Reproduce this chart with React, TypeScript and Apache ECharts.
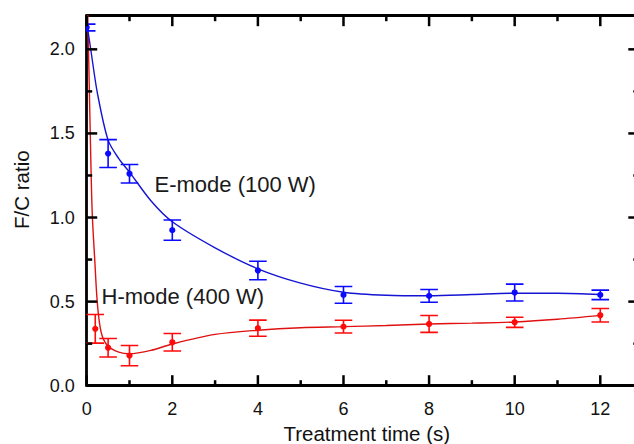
import React, { useEffect, useRef } from "react";
import * as echarts from "echarts";

// Measured points (treatment time in s, F/C ratio, error)
const blueTimes = [0, 0.5, 1, 2, 4, 6, 8, 10, 12];
const blueValues = [2.13, 1.38, 1.26, 0.925, 0.685, 0.54, 0.534, 0.554, 0.54];
const blueErrors = [0.02, 0.083, 0.055, 0.06, 0.055, 0.05, 0.038, 0.05, 0.028];

const redTimes = [0.2, 0.5, 1, 2, 4, 6, 8, 10, 12];
const redValues = [0.338, 0.226, 0.179, 0.258, 0.342, 0.351, 0.367, 0.377, 0.419];
const redErrors = [0.085, 0.055, 0.06, 0.052, 0.048, 0.038, 0.05, 0.03, 0.04];

// Fitted curves
const blueFitTimes = [0, 0.1, 0.25, 0.5, 0.75, 1, 1.5, 2, 3, 4, 5, 6, 7, 8, 9, 10, 11, 12];
const blueFitValues = [2.16, 1.99, 1.74, 1.46, 1.35, 1.27, 1.1, 0.975, 0.82, 0.695, 0.61, 0.556, 0.538, 0.535, 0.542, 0.55, 0.55, 0.542];

const redFitTimes = [0, 0.05, 0.1, 0.13, 0.19, 0.24, 0.3, 0.37, 0.5, 0.75, 1, 1.5, 2, 3, 4, 5, 6, 7, 8, 9, 10, 11, 12];
const redFitValues = [2.5, 1.9, 1.3, 1.02, 0.74, 0.52, 0.37, 0.29, 0.235, 0.2, 0.19, 0.21, 0.248, 0.305, 0.33, 0.345, 0.351, 0.358, 0.367, 0.372, 0.379, 0.395, 0.418];

// Tick positions and labels
const xMajorTicks = [0, 2, 4, 6, 8, 10, 12];
const xMinorTicks = [1, 3, 5, 7, 9, 11];
const yMajorTicks = [0, 0.5, 1.0, 1.5, 2.0];
const yMinorTicks = [0.25, 0.75, 1.25, 1.75];
const xTickLabels = ["0", "2", "4", "6", "8", "10", "12"];
const yTickLabels = ["0.0", "0.5", "1.0", "1.5", "2.0"];
const seriesNames = ["E-mode (100 W)", "H-mode (400 W)"];

const BLUE = "#0a0aff";
const BLUE_LINE = "#1414d2";
const RED = "#ff0a0a";
const RED_LINE = "#e01010";
const FONT = "Liberation Sans, Arial, sans-serif";
const MAJOR_LEN = 10.5;
const MINOR_LEN = 5.5;

function errorBarSeries(times: number[], vals: number[], errs: number[], color: string) {
  return {
    type: "custom",
    xAxisIndex: 0,
    yAxisIndex: 0,
    clip: true,
    z: 5,
    data: times.map((t, i) => [t, vals[i], errs[i]]),
    encode: { x: 0, y: 1 },
    renderItem: (params: any, api: any) => {
      const x = api.value(0);
      const y = api.value(1);
      const e = api.value(2);
      const top = api.coord([x, y + e]);
      const bot = api.coord([x, y - e]);
      const c = api.coord([x, y]);
      const hw = 8.8;
      const st = { stroke: color, lineWidth: 1.6, fill: null };
      return {
        type: "group",
        children: [
          { type: "line", shape: { x1: top[0], y1: top[1], x2: bot[0], y2: bot[1] }, style: st },
          { type: "line", shape: { x1: top[0] - hw, y1: top[1], x2: top[0] + hw, y2: top[1] }, style: st },
          { type: "line", shape: { x1: bot[0] - hw, y1: bot[1], x2: bot[0] + hw, y2: bot[1] }, style: st },
          { type: "circle", shape: { cx: c[0], cy: c[1], r: 3.1 }, style: { fill: color, stroke: null } },
        ],
      };
    },
  };
}

const tickStyle = { stroke: "#000", lineWidth: 2.5, fill: null };

// Inward ticks on all four sides of the frame, positioned through the axes' scales
function xTickSeries() {
  const data = [
    ...xMajorTicks.map((v) => [v, 0, 1]),
    ...xMinorTicks.map((v) => [v, 0, 0]),
  ];
  return {
    type: "custom",
    xAxisIndex: 0,
    yAxisIndex: 0,
    clip: false,
    silent: true,
    z: 6,
    data,
    encode: { x: 0, y: 1 },
    renderItem: (params: any, api: any) => {
      const cs = params.coordSys;
      const px = api.coord([api.value(0), 0])[0];
      const len = api.value(2) ? MAJOR_LEN : MINOR_LEN;
      const bottom = cs.y + cs.height;
      return {
        type: "group",
        children: [
          { type: "line", shape: { x1: px, y1: bottom, x2: px, y2: bottom - len }, style: tickStyle },
          { type: "line", shape: { x1: px, y1: cs.y, x2: px, y2: cs.y + len }, style: tickStyle },
        ],
      };
    },
  };
}

function yTickSeries() {
  const data = [
    ...yMajorTicks.map((v) => [0, v, 1]),
    ...yMinorTicks.map((v) => [0, v, 0]),
  ];
  return {
    type: "custom",
    xAxisIndex: 0,
    yAxisIndex: 0,
    clip: false,
    silent: true,
    z: 6,
    data,
    encode: { x: 0, y: 1 },
    renderItem: (params: any, api: any) => {
      const cs = params.coordSys;
      const py = api.coord([0, api.value(1)])[1];
      const len = api.value(2) ? MAJOR_LEN : MINOR_LEN;
      const right = cs.x + cs.width;
      return {
        type: "group",
        children: [
          { type: "line", shape: { x1: cs.x, y1: py, x2: cs.x + len, y2: py }, style: tickStyle },
          { type: "line", shape: { x1: right, y1: py, x2: right - len, y2: py }, style: tickStyle },
        ],
      };
    },
  };
}

export default function App() {
  const ref = useRef<HTMLDivElement>(null);

  useEffect(() => {
    document.documentElement.style.overflow = "hidden";
    document.body.style.overflow = "hidden";
    const chart = echarts.init(ref.current!, null, { renderer: "svg" });

    const xLabelFormatter = (v: number) => {
      const s = String(Math.round(v * 100) / 100);
      return xTickLabels.indexOf(s) >= 0 ? s : "";
    };
    const yLabelFormatter = (v: number) => {
      const s = v.toFixed(1);
      return yTickLabels.indexOf(s) >= 0 && Math.abs(v * 2 - Math.round(v * 2)) < 1e-6 ? s : "";
    };
    const line = () => ({ show: true, onZero: false, lineStyle: { color: "#000", width: 2.8 } });

    chart.setOption({
      animation: false,
      backgroundColor: "#ffffff",
      grid: { left: 86.7, right: 21.2, top: 15.7, bottom: 58.3, containLabel: false, outerBoundsMode: "none" },
      xAxis: [
        {
          type: "value", min: 0, max: 12.9, interval: 2, position: "bottom", splitLine: { show: false },
          name: "Treatment time (s)", nameLocation: "middle", nameGap: 30,
          nameTextStyle: { fontFamily: FONT, fontSize: 20.5, color: "#111", padding: [0, 0, 0, 8] },
          axisLine: line(), axisTick: { show: false },
          axisLabel: { show: true, margin: 14, showMaxLabel: false, fontFamily: FONT, fontSize: 18, color: "#111", formatter: xLabelFormatter },
        },
        { type: "value", min: 0, max: 12.9, interval: 2, position: "top", splitLine: { show: false }, axisLine: line(), axisTick: { show: false }, axisLabel: { show: false } },
      ],
      yAxis: [
        {
          type: "value", min: 0, max: 2.2, interval: 0.5, position: "left", splitLine: { show: false },
          name: "F/C ratio", nameLocation: "middle", nameRotate: 90, nameGap: 55,
          nameTextStyle: { fontFamily: FONT, fontSize: 20.5, color: "#111", padding: [0, 0, 0, 22] },
          axisLine: line(), axisTick: { show: false },
          axisLabel: { show: true, margin: 12, showMaxLabel: false, fontFamily: FONT, fontSize: 18, color: "#111", formatter: yLabelFormatter },
        },
        { type: "value", min: 0, max: 2.2, interval: 0.5, position: "right", splitLine: { show: false }, axisLine: line(), axisTick: { show: false }, axisLabel: { show: false } },
      ],
      series: [
        {
          name: seriesNames[1] + " fit", type: "line", xAxisIndex: 0, yAxisIndex: 0,
          data: redFitTimes.map((t, i) => [t, redFitValues[i]]),
          showSymbol: false, smooth: 0.3, clip: true, lineStyle: { color: RED_LINE, width: 1.4 }, z: 3,
        },
        {
          name: seriesNames[0] + " fit", type: "line", xAxisIndex: 0, yAxisIndex: 0,
          data: blueFitTimes.map((t, i) => [t, blueFitValues[i]]),
          showSymbol: false, smooth: 0.3, clip: true, lineStyle: { color: BLUE_LINE, width: 1.4 }, z: 3,
        },
        errorBarSeries(redTimes, redValues, redErrors, RED),
        errorBarSeries(blueTimes, blueValues, blueErrors, BLUE),
        xTickSeries(),
        yTickSeries(),
      ],
      graphic: [
        { type: "text", x: 154.5, y: 184, z: 10, style: { text: seriesNames[0], font: `22px ${FONT}`, fill: "#1a1a1a", align: "left", verticalAlign: "middle" } },
        { type: "text", x: 101.5, y: 296.5, z: 10, style: { text: seriesNames[1], font: `22px ${FONT}`, fill: "#1a1a1a", align: "left", verticalAlign: "middle" } },
      ],
    });

    return () => {
      chart.dispose();
    };
  }, []);

  return <div ref={ref} style={{ position: "fixed", left: 0, top: 0, width: 660, height: 444, background: "#fff" }} />;
}
